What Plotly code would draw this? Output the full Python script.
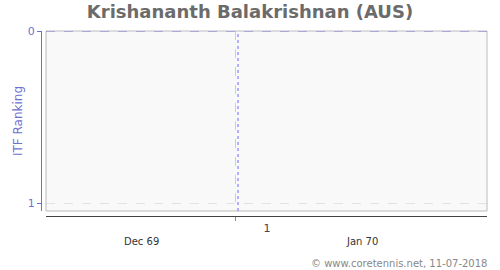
import plotly.graph_objects as go

# ---- data ----
title_text = "Krishananth Balakrishnan (AUS)"
y_ticks = [0, 1]
x_range = ["1969-12-06T04:00:00", "1970-02-04T04:00:00"]
week_ticks = ["1970-01-01"]
week_labels = ["1"]
month_positions = ["1969-12-19T04:00:00", "1970-01-18T04:00:00"]
month_labels = ["Dec 69", "Jan 70"]
marker_date = "1970-01-01T07:00:00"
footer = "\u00a9 www.coretennis.net, 11-07-2018"

W, H = 500, 270
ml, mr, mt, mb = 41, 13, 31, 54
plot_w = W - ml - mr
plot_h = H - mt - mb
blue = "#6f6fcf"

fig = go.Figure()
fig.add_trace(go.Scatter(x=[marker_date], y=[None], mode="lines", showlegend=False, hoverinfo="skip"))

fig.update_layout(
    width=W, height=H,
    margin=dict(l=ml, r=mr, t=mt, b=mb),
    paper_bgcolor="white",
    plot_bgcolor="#f9f9f9",
    font=dict(family="DejaVu Sans", size=11, color="#444"),
    showlegend=False,
    title=dict(text="<b>" + title_text + "</b>", x=0.5, xanchor="center", y=1 - 12 / H, yanchor="middle",
               font=dict(size=18, color="#6b6b6b", family="DejaVu Sans")),
    xaxis=dict(
        type="date",
        domain=[5 / plot_w, 1],
        range=x_range,
        anchor="free", position=0,
        tickmode="array", tickvals=week_ticks, ticktext=week_labels,
        ticks="outside", ticklen=4, tickcolor="#888",
        ticklabelshift=31, ticklabelstandoff=-2,
        tickfont=dict(size=11, color="#444"),
        showline=True, linecolor="#444", linewidth=1,
        showgrid=True, gridcolor="#cfcfcf", griddash="dash", gridwidth=1,
        zeroline=False, fixedrange=True,
    ),
    yaxis=dict(
        domain=[5 / plot_h, 1],
        range=[1 + 8 / 172, 0],
        anchor="free", position=0,
        tickmode="array", tickvals=y_ticks, ticktext=[str(v) for v in y_ticks],
        ticks="outside", ticklen=4, tickcolor=blue,
        tickfont=dict(size=11, color=blue),
        showline=True, linecolor=blue, linewidth=1,
        showgrid=True, gridcolor="#e2e2e2", griddash="dash", gridwidth=1,
        zeroline=False,
        title=dict(text="ITF Ranking", font=dict(size=12, color=blue), standoff=1),
        fixedrange=True,
    ),
)

# plot border
fig.add_shape(type="rect", xref="x domain", yref="y domain", x0=0, x1=1, y0=0, y1=1,
              line=dict(color="#bbbbbb", width=1), layer="above")
# blue dashed line at rank 0
fig.add_shape(type="line", xref="x domain", yref="y", x0=0, x1=1, y0=y_ticks[0], y1=y_ticks[0],
              line=dict(color="#7a7ad8", width=1, dash="dash"), layer="above")
# blue dotted marker line
fig.add_shape(type="line", xref="x", yref="y domain", x0=marker_date, x1=marker_date, y0=0, y1=1,
              line=dict(color="#6a6aff", width=1, dash="dot"), layer="above")

for pos, lab in zip(month_positions, month_labels):
    fig.add_annotation(x=pos, xref="x", y=(H - 241 - mb) / plot_h, yref="paper", text=lab, showarrow=False,
                       font=dict(size=10, color="#333"), xanchor="center", yanchor="middle")

fig.add_annotation(x=1, xref="paper", y=(H - 263 - mb) / plot_h, yref="paper", text=footer,
                   showarrow=False, xanchor="right", yanchor="middle", xshift=2,
                   font=dict(size=10, color="#888"))

fig.write_html("out.html")
